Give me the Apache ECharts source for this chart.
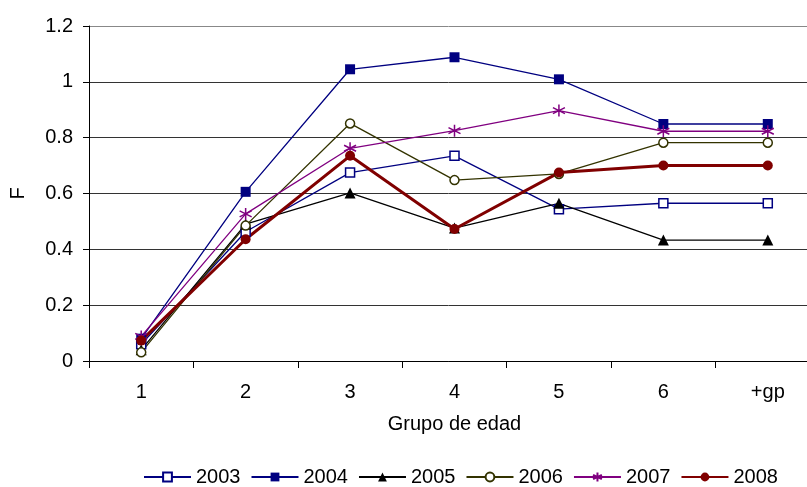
<!DOCTYPE html>
<html><head><meta charset="utf-8">
<script src="https://cdn.jsdelivr.net/npm/echarts@6/dist/echarts.min.js"></script>
<style>html,body{margin:0;padding:0;background:#fff}#c{width:807px;height:487px}</style>
</head><body><div id="c"></div>
<script>
var categories = ['1','2','3','4','5','6','+gp'];
var yTicks = [0, 0.2, 0.4, 0.6, 0.8, 1, 1.2];
var s2003 = [0.060, 0.463, 0.675, 0.735, 0.544, 0.565, 0.565];
var s2004 = [0.080, 0.606, 1.045, 1.088, 1.009, 0.849, 0.849];
var s2005 = [0.040, 0.490, 0.602, 0.476, 0.565, 0.433, 0.433];
var s2006 = [0.031, 0.485, 0.851, 0.648, 0.670, 0.782, 0.782];
var s2007 = [0.088, 0.527, 0.762, 0.825, 0.897, 0.823, 0.823];
var s2008 = [0.073, 0.436, 0.735, 0.473, 0.675, 0.700, 0.700];

var star = 'path://M0,-10L0,10M-8.7,-5L8.7,5M-8.7,5L8.7,-5';
function mk(name, data, color, symbol, filled, width, size){
  return {
    name: name, type: 'line', data: data, symbol: symbol, symbolSize: size,
    lineStyle: {color: color, width: width},
    itemStyle: {color: filled ? color : '#fff', borderColor: color, borderWidth: filled ? 0 : 1.5},
    emphasis: {disabled: true}, animation: false
  };
}
var series = [
  mk('2003', s2003, '#000080', 'rect', false, 1.3, 9),
  mk('2004', s2004, '#000080', 'rect', true, 1.3, 10),
  mk('2005', s2005, '#000000', 'triangle', true, 1.3, 11),
  mk('2006', s2006, '#333300', 'circle', false, 1.3, 9),
  mk('2007', s2007, '#800080', star, false, 1.3, 12),
  mk('2008', s2008, '#800000', 'circle', true, 3, 10)
];
series[4].itemStyle = {color: '#800080', borderColor: '#800080', borderWidth: 1.5};

var FONT = 'Liberation Sans, Arial, sans-serif';
var chart = echarts.init(document.getElementById('c'));
chart.setOption({
  animation: false,
  textStyle: {fontFamily: FONT},
  grid: {left: 89, right: -13, top: 26, bottom: 126, outerBoundsMode: 'none', containLabel: false},
  legend: {
    bottom: 0, left: 143, padding: 0, itemWidth: 47, itemHeight: 11, itemGap: 10,
    textStyle: {fontSize: 20, color: '#000', fontFamily: FONT},
    data: ['2003','2004','2005','2006','2007','2008']
  },
  xAxis: {
    type: 'category', data: categories, boundaryGap: true,
    name: 'Grupo de edad', nameLocation: 'middle', nameGap: 53,
    nameTextStyle: {fontSize: 20, color: '#000'},
    axisLine: {lineStyle: {color: '#000', width: 1}},
    axisTick: {show: true, length: 7, lineStyle: {color: '#000'}},
    axisLabel: {fontSize: 20, color: '#000', margin: 21}
  },
  yAxis: {
    type: 'value', min: yTicks[0], max: yTicks[yTicks.length-1], interval: 0.2,
    name: 'F', nameLocation: 'middle', nameGap: 61, nameRotate: 90,
    nameTextStyle: {fontSize: 20, color: '#000'},
    axisLine: {show: true, lineStyle: {color: '#000', width: 1}},
    axisTick: {show: true, length: 6, lineStyle: {color: '#000'}},
    axisLabel: {fontSize: 20, color: '#000', margin: 16,
      formatter: function(v){ return String(Math.round(v*10)/10); }},
    splitLine: {show: true, lineStyle: {color: ['#333','#333','#333','#333','#333','#333','#888'], width: 1}}
  },
  series: series
});
</script>
</body></html>
